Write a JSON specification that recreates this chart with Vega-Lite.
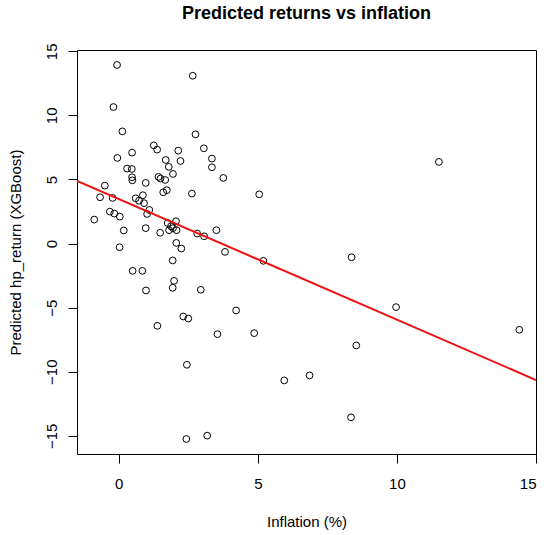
{
  "$schema": "https://vega.github.io/schema/vega-lite/v6.json",
  "autosize": "none",
  "padding": {"left": 77, "top": 50, "right": 14, "bottom": 81},
  "width": 459,
  "height": 404,
  "background": "white",
  "title": {
    "text": "Predicted returns vs inflation",
    "font": "Liberation Sans",
    "fontSize": 18,
    "fontWeight": "bold",
    "color": "black",
    "anchor": "middle",
    "frame": "group",
    "baseline": "alphabetic",
    "offset": 6
  },
  "config": {
    "view": {"stroke": "black", "strokeWidth": 1},
    "axis": {
      "grid": false,
      "domain": false,
      "tickColor": "black",
      "tickSize": 9,
      "labelFont": "Liberation Sans",
      "labelFontSize": 15,
      "labelColor": "black",
      "labelOverlap": false,
      "titleFont": "Liberation Sans",
      "titleFontSize": 15,
      "titleFontWeight": "normal",
      "titleColor": "black"
    }
  },
  "datasets": {
    "pts": [
      {"inflation": -0.06, "pred": 13.93},
      {"inflation": 2.66, "pred": 13.09},
      {"inflation": -0.19, "pred": 10.65},
      {"inflation": 0.13, "pred": 8.75},
      {"inflation": 2.76, "pred": 8.52},
      {"inflation": 1.26, "pred": 7.66},
      {"inflation": 1.38, "pred": 7.33},
      {"inflation": 3.06, "pred": 7.43},
      {"inflation": 0.48, "pred": 7.09},
      {"inflation": 2.14, "pred": 7.25},
      {"inflation": -0.05, "pred": 6.68},
      {"inflation": 3.35, "pred": 6.63},
      {"inflation": 1.69, "pred": 6.52},
      {"inflation": 2.22, "pred": 6.44},
      {"inflation": 1.8, "pred": 5.98},
      {"inflation": 3.35, "pred": 5.95},
      {"inflation": 0.3, "pred": 5.85},
      {"inflation": 0.47, "pred": 5.82},
      {"inflation": 1.95, "pred": 5.43},
      {"inflation": 0.48, "pred": 5.17},
      {"inflation": 0.49, "pred": 4.93},
      {"inflation": 1.43, "pred": 5.2},
      {"inflation": 1.5, "pred": 5.07},
      {"inflation": 1.67, "pred": 4.96},
      {"inflation": 3.76, "pred": 5.12},
      {"inflation": -0.5, "pred": 4.52},
      {"inflation": 0.97, "pred": 4.73},
      {"inflation": 1.6, "pred": 4.0},
      {"inflation": 1.73, "pred": 4.16},
      {"inflation": 2.63, "pred": 3.9},
      {"inflation": 5.05, "pred": 3.84},
      {"inflation": -0.67, "pred": 3.61},
      {"inflation": -0.22, "pred": 3.56},
      {"inflation": 0.61, "pred": 3.53},
      {"inflation": 0.87, "pred": 3.77},
      {"inflation": 0.73, "pred": 3.34},
      {"inflation": 0.91, "pred": 3.15},
      {"inflation": 1.1, "pred": 2.62},
      {"inflation": 1.02, "pred": 2.31},
      {"inflation": -0.32, "pred": 2.49},
      {"inflation": -0.16, "pred": 2.34},
      {"inflation": 0.04, "pred": 2.1},
      {"inflation": -0.88, "pred": 1.87},
      {"inflation": 0.18, "pred": 1.02},
      {"inflation": 0.97, "pred": 1.2},
      {"inflation": 1.49, "pred": 0.84},
      {"inflation": 1.76, "pred": 1.6},
      {"inflation": 2.06, "pred": 1.74},
      {"inflation": 1.88, "pred": 1.35},
      {"inflation": 1.81, "pred": 1.04},
      {"inflation": 1.95, "pred": 1.2},
      {"inflation": 2.08, "pred": 1.04},
      {"inflation": 2.82, "pred": 0.78},
      {"inflation": 3.07, "pred": 0.57},
      {"inflation": 3.51, "pred": 1.04},
      {"inflation": 0.03, "pred": -0.29},
      {"inflation": 2.07, "pred": 0.05},
      {"inflation": 2.25, "pred": -0.39},
      {"inflation": 3.82, "pred": -0.65},
      {"inflation": 5.2, "pred": -1.35},
      {"inflation": 1.94, "pred": -1.32},
      {"inflation": 0.5, "pred": -2.13},
      {"inflation": 0.85, "pred": -2.13},
      {"inflation": 1.99, "pred": -2.91},
      {"inflation": 1.94, "pred": -3.45},
      {"inflation": 0.98, "pred": -3.66},
      {"inflation": 2.95, "pred": -3.61},
      {"inflation": 4.22, "pred": -5.22},
      {"inflation": 2.32, "pred": -5.69},
      {"inflation": 2.5, "pred": -5.85},
      {"inflation": 1.39, "pred": -6.42},
      {"inflation": 3.55, "pred": -7.07},
      {"inflation": 4.87, "pred": -6.99},
      {"inflation": 2.45, "pred": -9.46},
      {"inflation": 5.95, "pred": -10.68},
      {"inflation": 6.86, "pred": -10.29},
      {"inflation": 2.43, "pred": -15.25},
      {"inflation": 3.18, "pred": -14.99},
      {"inflation": 11.51, "pred": 6.37},
      {"inflation": 8.37, "pred": -1.07},
      {"inflation": 9.97, "pred": -4.96},
      {"inflation": 14.4, "pred": -6.73},
      {"inflation": 8.54, "pred": -7.95},
      {"inflation": 8.35, "pred": -13.56}
    ],
    "fit": [
      {"inflation": -1.5, "pred": 4.89},
      {"inflation": 15.0, "pred": -10.65}
    ]
  },
  "encoding": {
    "x": {
      "field": "inflation",
      "type": "quantitative",
      "scale": {"domain": [-1.5, 15.0], "nice": false, "zero": false},
      "axis": {
        "values": [0, 5, 10, 15],
        "labelPadding": 13,
        "title": "Inflation (%)",
        "titleBaseline": "alphabetic",
        "titleX": 229.5,
        "titleY": 72.5
      }
    },
    "y": {
      "field": "pred",
      "type": "quantitative",
      "scale": {"domain": [-16.42, 15.1], "nice": false, "zero": false},
      "axis": {
        "values": [-15, -10, -5, 0, 5, 10, 15],
        "labelAngle": 270,
        "labelAlign": "center",
        "labelBaseline": "alphabetic",
        "labelPadding": 11.5,
        "title": "Predicted hp_return (XGBoost)",
        "titleAngle": 270,
        "titleBaseline": "alphabetic",
        "titleX": -57,
        "titleY": 202
      }
    }
  },
  "layer": [
    {
      "data": {"name": "pts"},
      "mark": {
        "type": "point",
        "shape": "circle",
        "filled": false,
        "stroke": "black",
        "strokeWidth": 1,
        "opacity": 1,
        "size": 46
      }
    },
    {
      "data": {"name": "fit"},
      "mark": {
        "type": "line",
        "color": "#ee1111",
        "strokeWidth": 2,
        "clip": true
      }
    }
  ]
}
